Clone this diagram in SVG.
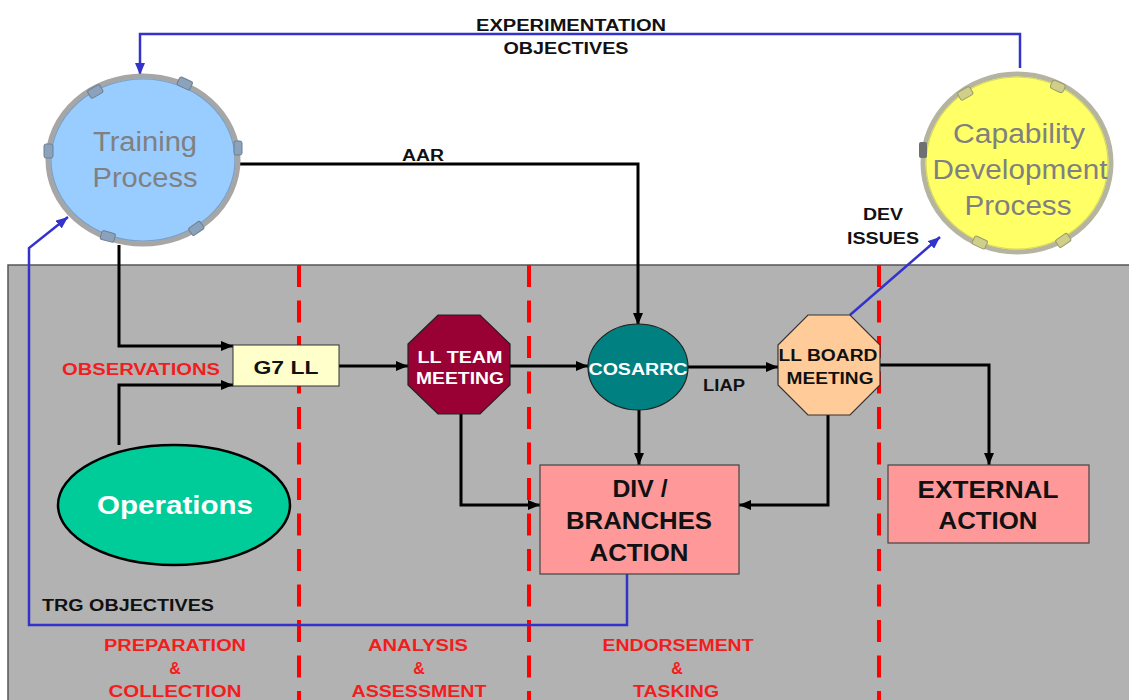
<svg xmlns="http://www.w3.org/2000/svg" width="1129" height="700" viewBox="0 0 1129 700">
<style>
text{font-family:"Liberation Sans",Arial,sans-serif;text-anchor:middle}
.b{font-weight:bold}
.lbl{font-weight:bold;font-size:16px;fill:#111}
.red{font-weight:bold;font-size:16px;fill:#f21d1d}
.big{font-weight:bold;font-size:24px;fill:#111}
.proc{font-size:27px;fill:#808080}
.blk{fill:none;stroke:#000;stroke-width:3}
.blu{fill:none;stroke:#3333cc;stroke-width:2.5}
.tabB{fill:#8aa2bc;stroke:#6f7f8f;stroke-width:1}
.tabY{fill:#cfcf8a;stroke:#9a9a70;stroke-width:1}
</style>
<defs>
<marker id="ab" markerUnits="userSpaceOnUse" markerWidth="12" markerHeight="10" refX="12" refY="5" orient="auto"><path d="M0,0 L12,5 L0,10 z" fill="#000"/></marker>
<marker id="au" markerUnits="userSpaceOnUse" markerWidth="12" markerHeight="10" refX="12" refY="5" orient="auto"><path d="M0,0 L12,5 L0,10 z" fill="#3333cc"/></marker>
</defs>
<rect width="1129" height="700" fill="#fff"/>
<g id="panel">
<rect x="8" y="265" width="1125" height="440" fill="#b2b2b2" stroke="#555" stroke-width="1.5"/>
<g stroke="#ff0000" stroke-width="4" stroke-dasharray="22 13.5">
<line x1="299" y1="265" x2="299" y2="700"/>
<line x1="529" y1="265" x2="529" y2="700"/>
<line x1="879" y1="265" x2="879" y2="700"/>
</g>
</g>
<g id="connectors">
<path class="blu" d="M1020 68 V34 H140 V75" marker-end="url(#au)"/>
<path class="blk" d="M240 164 H638 V325" marker-end="url(#ab)"/>
<path class="blk" d="M119 245 V346 H233" marker-end="url(#ab)"/>
<path class="blk" d="M119 445 V385 H233" marker-end="url(#ab)"/>
<path class="blk" d="M339 366 H408" marker-end="url(#ab)"/>
<path class="blk" d="M510 366 H588" marker-end="url(#ab)"/>
<path class="blk" d="M688 367 H778" marker-end="url(#ab)"/>
<path class="blk" d="M639 410 V465" marker-end="url(#ab)"/>
<path class="blk" d="M461 414 V505 H540" marker-end="url(#ab)"/>
<path class="blk" d="M828 415 V505 H739" marker-end="url(#ab)"/>
<path class="blk" d="M880 365 H989 V465" marker-end="url(#ab)"/>
<path class="blu" d="M850 315 L940 237" marker-end="url(#au)"/>
<path class="blu" d="M627 574 V625 H29 V248 L68 217" marker-end="url(#au)"/>
<text class="lbl" x="571" y="31" textLength="190" lengthAdjust="spacingAndGlyphs">EXPERIMENTATION</text>
<text class="lbl" x="566" y="54" textLength="125" lengthAdjust="spacingAndGlyphs">OBJECTIVES</text>
<text class="lbl" x="423" y="161" textLength="42" lengthAdjust="spacingAndGlyphs">AAR</text>
<text class="red" x="141" y="375" textLength="158" lengthAdjust="spacingAndGlyphs">OBSERVATIONS</text>
<text class="lbl" x="724" y="391" textLength="42" lengthAdjust="spacingAndGlyphs">LIAP</text>
<text class="lbl" x="883" y="220" textLength="40" lengthAdjust="spacingAndGlyphs">DEV</text>
<text class="lbl" x="883" y="244" textLength="72" lengthAdjust="spacingAndGlyphs">ISSUES</text>
<text class="lbl" x="128" y="611" textLength="172" lengthAdjust="spacingAndGlyphs">TRG OBJECTIVES</text>
</g>
<g id="phases">
<text class="red" x="175" y="651" textLength="142" lengthAdjust="spacingAndGlyphs">PREPARATION</text>
<text class="red" x="175" y="674">&amp;</text>
<text class="red" x="175" y="697" textLength="133" lengthAdjust="spacingAndGlyphs">COLLECTION</text>
<text class="red" x="418" y="651" textLength="100" lengthAdjust="spacingAndGlyphs">ANALYSIS</text>
<text class="red" x="419" y="674">&amp;</text>
<text class="red" x="419" y="697" textLength="135" lengthAdjust="spacingAndGlyphs">ASSESSMENT</text>
<text class="red" x="678" y="651" textLength="151" lengthAdjust="spacingAndGlyphs">ENDORSEMENT</text>
<text class="red" x="677" y="674">&amp;</text>
<text class="red" x="676" y="697" textLength="86" lengthAdjust="spacingAndGlyphs">TASKING</text>
</g>
<g id="training">
<ellipse cx="143" cy="160" rx="95" ry="84" fill="#99ccff" stroke="#a6a6a6" stroke-width="5"/>
<ellipse cx="143" cy="160" rx="92" ry="81" fill="none" stroke="#7f9fbf" stroke-width="1.2"/>
<rect class="tabB" x="88" y="87" width="14" height="9" rx="2" transform="rotate(-30 95 91)"/>
<rect class="tabB" x="178" y="79" width="14" height="9" rx="2" transform="rotate(25 185 83)"/>
<rect class="tabB" x="44" y="144" width="9" height="14" rx="2"/>
<rect class="tabB" x="234" y="141" width="8" height="14" rx="2"/>
<rect class="tabB" x="101" y="232" width="14" height="9" rx="2" transform="rotate(15 108 236)"/>
<rect class="tabB" x="189" y="224" width="14" height="9" rx="2" transform="rotate(-35 196 228)"/>
<text class="proc" x="145" y="151" textLength="104" lengthAdjust="spacingAndGlyphs">Training</text>
<text class="proc" x="145" y="187" textLength="105" lengthAdjust="spacingAndGlyphs">Process</text>
</g>
<g id="capability">
<ellipse cx="1017" cy="163" rx="94" ry="89" fill="#ffff66" stroke="#b4b4a0" stroke-width="5"/>
<ellipse cx="1017" cy="163" rx="91" ry="86" fill="none" stroke="#d8d860" stroke-width="1.2"/>
<rect class="tabY" x="1051" y="82" width="14" height="9" rx="3" transform="rotate(25 1058 86)"/>
<rect class="tabY" x="958" y="89" width="14" height="9" rx="2" transform="rotate(-30 965 93)"/>
<rect x="919" y="142" width="8" height="16" rx="2" fill="#707070"/>
<rect class="tabY" x="973" y="238" width="14" height="9" rx="2" transform="rotate(25 980 242)"/>
<rect class="tabY" x="1056" y="236" width="14" height="9" rx="2" transform="rotate(-35 1063 240)"/>
<text class="proc" x="1019" y="143" textLength="132" lengthAdjust="spacingAndGlyphs">Capability</text>
<text class="proc" x="1020" y="179" textLength="175" lengthAdjust="spacingAndGlyphs">Development</text>
<text class="proc" x="1018" y="215" textLength="107" lengthAdjust="spacingAndGlyphs">Process</text>
</g>
<g id="g7ll">
<rect x="233" y="345" width="106" height="41" fill="#ffffcc" stroke="#333" stroke-width="1"/>
<text class="b" x="286" y="374" font-size="19" fill="#111" textLength="65" lengthAdjust="spacingAndGlyphs">G7 LL</text>
</g>
<g id="llteam">
<polygon points="438,315 480,315 510,344 510,385 480,414 438,414 408,385 408,344" fill="#990033" stroke="#222" stroke-width="1.2"/>
<text class="b" x="460" y="363" font-size="16" fill="#fff" textLength="85" lengthAdjust="spacingAndGlyphs">LL TEAM</text>
<text class="b" x="460" y="384" font-size="16" fill="#fff" textLength="88" lengthAdjust="spacingAndGlyphs">MEETING</text>
</g>
<g id="cosarrc">
<ellipse cx="638" cy="367" rx="50" ry="43" fill="#008080" stroke="#222" stroke-width="1.2"/>
<text class="b" x="638" y="375" font-size="16" fill="#fff" textLength="99" lengthAdjust="spacingAndGlyphs">COSARRC</text>
</g>
<g id="llboard">
<polygon points="808,315 850,315 880,345 880,385 850,415 808,415 778,385 778,345" fill="#ffcc99" stroke="#333" stroke-width="1.2"/>
<text class="b" x="828" y="361" font-size="16" fill="#111" textLength="99" lengthAdjust="spacingAndGlyphs">LL BOARD</text>
<text class="b" x="830" y="384" font-size="16" fill="#111" textLength="87" lengthAdjust="spacingAndGlyphs">MEETING</text>
</g>
<g id="operations">
<ellipse cx="174" cy="505" rx="116" ry="60" fill="#00cc99" stroke="#000" stroke-width="2.5"/>
<text class="b" x="175" y="514" font-size="25" fill="#fff" textLength="156" lengthAdjust="spacingAndGlyphs">Operations</text>
</g>
<g id="divbranches">
<rect x="540" y="465" width="199" height="109" fill="#ff9999" stroke="#444" stroke-width="1.2"/>
<text class="big" x="640" y="497" textLength="55" lengthAdjust="spacingAndGlyphs">DIV /</text>
<text class="big" x="639" y="529" textLength="146" lengthAdjust="spacingAndGlyphs">BRANCHES</text>
<text class="big" x="639" y="561" textLength="99" lengthAdjust="spacingAndGlyphs">ACTION</text>
</g>
<g id="external">
<rect x="888" y="465" width="201" height="78" fill="#ff9999" stroke="#444" stroke-width="1.2"/>
<text class="big" x="988" y="498" textLength="141" lengthAdjust="spacingAndGlyphs">EXTERNAL</text>
<text class="big" x="988" y="529" textLength="99" lengthAdjust="spacingAndGlyphs">ACTION</text>
</g>
</svg>
